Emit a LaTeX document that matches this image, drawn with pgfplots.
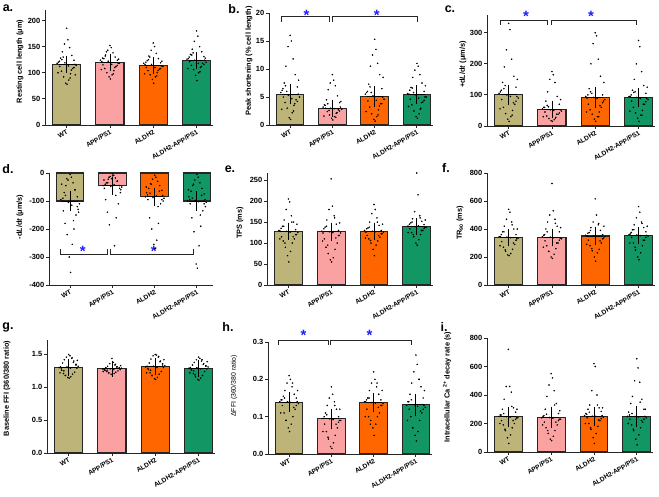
\documentclass[border=0pt]{standalone}
\usepackage{pgfplots}
\usepackage{pgfplotstable}
\pgfplotsset{compat=1.18}
\usepackage{fontspec}
\setmainfont{Liberation Sans}
\definecolor{cWT}{RGB}{189,180,122}
\definecolor{cAPP}{RGB}{250,162,162}
\definecolor{cALD}{RGB}{255,102,0}
\definecolor{cGRN}{RGB}{18,150,100}
\definecolor{starblue}{RGB}{30,30,255}

% jitter column j, then WT (w), APP/PS1 (p), ALDH2 (o), ALDH2-APP/PS1 (g)
\pgfplotstableread{
j w p o g
0.00 185 152 157 180
0.03 163 148 150 170
-0.05 155 143 143 160
0.07 148 138 137 150
-0.10 140 134 132 145
0.12 133 130 127 140
-0.14 128 127 123 135
0.17 124 124 119 131
-0.19 120 121 116 127
0.19 116 118 113 124
-0.16 112 115 110 121
0.14 108 112 107 118
-0.12 103 108 104 114
0.09 98 104 100 110
-0.07 92 100 96 106
0.05 86 96 92 100
-0.02 80 92 87 95
0.01 78 88 80 85
-0.22 118 124 118 126
0.22 114 118 112 120
-0.17 122 128 120 130
0.17 110 114 108 116
-0.11 125 132 125 134
0.11 105 110 104 112
-0.04 119 122 116 124
0.04 113 116 110 118
-0.20 100 106 98 108
0.20 96 126 122 128
-0.08 130 140 130 138
0.08 90 98 94 102
}\tA
\pgfplotstableread{
j w p o g
0.00 16 9 15.3 11
0.03 15 8 13.5 10.5
-0.05 14 7.5 12.5 9.8
0.07 11.8 7 11 9
-0.10 10.5 6.3 10.5 8.5
0.12 9 5.2 9 7.5
-0.14 7.5 4.5 7.3 6.7
0.17 6.8 4 6.5 6
-0.19 6.2 3.6 5.8 5.5
0.19 5.5 3.2 5 5
-0.16 5 3 4.3 4.6
0.14 4.5 2.7 3.8 4.1
-0.12 4 2.4 3.2 3.6
0.09 3.5 2.1 2.7 3
-0.07 3 1.8 2 2.5
0.05 2.2 1.5 1.5 2
-0.02 1.3 1.2 1 1.5
0.01 1.0 0.9 0.7 1.2
-0.22 5.8 3.2 5.5 5.6
0.22 5.0 2.8 4.6 5.0
-0.17 6.5 3.5 6.0 6.2
0.17 4.2 2.5 3.8 4.4
-0.11 7.0 3.8 6.8 6.6
0.11 3.8 2.2 3.4 4.0
-0.04 5.3 3.0 5.2 5.4
0.04 4.7 2.9 4.4 4.8
-0.20 2.8 1.6 2.4 3.3
0.20 8.0 4.2 8.5 7.0
-0.08 6.0 2.6 5.8 5.8
0.08 2.5 1.4 1.8 2.8
}\tB
\pgfplotstableread{
j w p o g
0.00 330 175 300 275
0.03 310 165 290 255
-0.05 245 150 265 200
0.07 215 140 215 175
-0.10 190 110 200 150
0.12 160 95 160 130
-0.14 140 80 120 115
0.17 125 70 100 105
-0.19 110 60 90 95
0.19 95 52 80 88
-0.16 85 45 70 80
0.14 70 38 60 70
-0.12 60 32 52 60
0.09 50 28 45 50
-0.07 40 24 38 42
0.05 30 20 30 35
-0.02 22 17 22 25
0.01 15 15 15 15
-0.22 105 55 95 95
0.22 90 48 85 85
-0.17 115 60 100 100
0.17 80 42 75 78
-0.11 120 66 110 108
0.11 75 38 65 70
-0.04 100 52 92 92
0.04 95 50 88 88
-0.20 55 30 45 48
0.20 150 85 140 125
-0.08 130 62 105 110
0.08 35 25 30 35
}\tC
\pgfplotstableread{
j w p o g
0.00 -5 -3 -8 -5
0.03 -15 -8 -15 -15
-0.05 -25 -12 -22 -25
0.07 -35 -18 -30 -35
-0.10 -45 -22 -38 -45
0.12 -60 -28 -45 -55
-0.14 -70 -35 -55 -65
0.17 -85 -45 -62 -75
-0.19 -100 -55 -70 -85
0.19 -130 -70 -80 -95
-0.16 -135 -95 -95 -110
0.14 -150 -110 -110 -135
-0.12 -180 -140 -160 -160
0.09 -200 -160 -180 -190
-0.07 -220 -185 -200 -210
0.05 -255 -260 -240 -260
-0.02 -300 -20 -255 -325
0.01 -355 -10 -270 -340
-0.22 -95 -45 -85 -100
0.22 -110 -50 -90 -105
-0.17 -90 -40 -78 -95
0.17 -120 -55 -95 -110
-0.11 -80 -35 -72 -90
0.11 -60 -30 -65 -80
-0.04 -105 -48 -88 -98
0.04 -115 -42 -82 -102
-0.20 -40 -25 -50 -60
0.20 -140 -60 -100 -120
-0.08 -20 -15 -40 -40
0.08 -170 -80 -120 -150
}\tD
\pgfplotstableread{
j w p o g
0.00 205 253 192 267
0.03 198 188 180 215
-0.05 180 180 170 175
0.07 165 165 160 165
-0.10 155 155 150 158
0.12 150 145 142 152
-0.14 140 138 136 148
0.17 132 130 130 144
-0.19 128 124 126 140
0.19 120 118 122 137
-0.16 115 110 118 134
0.14 110 100 114 130
-0.12 105 90 110 125
0.09 100 85 105 120
-0.07 90 75 100 115
0.05 80 65 95 108
-0.02 70 60 85 100
0.01 55 55 70 95
-0.22 130 128 130 140
0.22 125 124 126 138
-0.17 135 134 134 145
0.17 120 118 122 135
-0.11 140 140 138 150
0.11 115 112 118 130
-0.04 128 127 128 139
0.04 126 125 127 141
-0.20 110 105 112 125
0.20 145 148 145 155
-0.08 100 95 106 120
0.08 150 160 150 160
}\tE
\pgfplotstableread{
j w p o g
0.00 540 725 615 560
0.03 520 530 500 520
-0.05 470 500 450 480
0.07 450 470 430 450
-0.10 420 450 410 430
0.12 400 420 390 410
-0.14 380 400 375 395
0.17 360 380 360 380
-0.19 345 355 350 365
0.19 330 335 335 355
-0.16 310 315 320 340
0.14 290 300 300 320
-0.12 270 280 280 300
0.09 255 260 255 280
-0.07 240 240 245 250
0.05 225 220 230 230
-0.02 215 200 200 200
0.01 210 190 170 180
-0.22 345 345 355 360
0.22 335 330 345 350
-0.17 360 360 370 375
0.17 320 320 330 340
-0.11 380 380 390 395
0.11 300 300 315 320
-0.04 342 342 352 357
0.04 338 338 348 353
-0.20 280 270 290 300
0.20 400 410 420 420
-0.08 250 240 260 270
0.08 430 440 440 440
}\tF
\pgfplotstableread{
j w p o g
0.00 1.50 1.44 1.50 1.46
0.03 1.48 1.38 1.49 1.44
-0.05 1.46 1.36 1.48 1.42
0.07 1.44 1.34 1.46 1.40
-0.10 1.42 1.32 1.43 1.38
0.12 1.40 1.31 1.40 1.36
-0.14 1.37 1.30 1.37 1.34
0.17 1.34 1.29 1.34 1.32
-0.19 1.31 1.28 1.32 1.30
0.19 1.29 1.27 1.30 1.28
-0.16 1.26 1.26 1.27 1.26
0.14 1.23 1.25 1.24 1.24
-0.12 1.21 1.24 1.22 1.21
0.09 1.20 1.23 1.20 1.18
-0.07 1.18 1.22 1.18 1.16
0.05 1.16 1.21 1.15 1.14
-0.02 1.15 1.20 1.13 1.12
0.01 1.14 1.19 1.12 1.11
-0.22 1.30 1.28 1.31 1.29
0.22 1.32 1.29 1.33 1.31
-0.17 1.28 1.27 1.29 1.27
0.17 1.35 1.30 1.36 1.33
-0.11 1.25 1.26 1.26 1.25
0.11 1.38 1.31 1.39 1.35
-0.04 1.31 1.28 1.32 1.30
0.04 1.29 1.27 1.30 1.28
-0.20 1.22 1.24 1.22 1.22
0.20 1.41 1.33 1.42 1.39
-0.08 1.18 1.22 1.18 1.19
0.08 1.45 1.35 1.47 1.42
}\tG
\pgfplotstableread{
j w p o g
0.00 0.21 0.18 0.22 0.265
0.03 0.20 0.16 0.20 0.24
-0.05 0.19 0.15 0.19 0.22
0.07 0.18 0.14 0.18 0.20
-0.10 0.17 0.13 0.17 0.19
0.12 0.16 0.12 0.16 0.18
-0.14 0.155 0.11 0.15 0.16
0.17 0.15 0.10 0.145 0.15
-0.19 0.145 0.095 0.14 0.14
0.19 0.14 0.09 0.13 0.13
-0.16 0.13 0.08 0.12 0.12
0.14 0.12 0.07 0.11 0.11
-0.12 0.11 0.06 0.10 0.10
0.09 0.10 0.05 0.10 0.09
-0.07 0.09 0.04 0.09 0.07
0.05 0.08 0.03 0.08 0.06
-0.02 0.07 0.02 0.07 0.05
0.01 0.06 0.015 0.05 0.035
-0.22 0.14 0.095 0.14 0.13
0.22 0.135 0.09 0.135 0.125
-0.17 0.145 0.10 0.145 0.14
0.17 0.13 0.085 0.13 0.12
-0.11 0.15 0.105 0.15 0.145
0.11 0.125 0.08 0.125 0.115
-0.04 0.14 0.094 0.138 0.132
0.04 0.138 0.092 0.136 0.128
-0.20 0.11 0.06 0.10 0.09
0.20 0.17 0.12 0.17 0.17
-0.08 0.09 0.045 0.08 0.07
0.08 0.19 0.13 0.19 0.20
}\tH
\pgfplotstableread{
j w p o g
0.00 720 550 620 655
0.03 460 520 600 590
-0.05 460 470 430 500
0.07 420 430 400 490
-0.10 370 390 330 390
0.12 310 340 310 370
-0.14 300 300 300 340
0.17 280 270 285 300
-0.19 260 250 270 280
0.19 240 230 255 250
-0.16 220 210 240 230
0.14 200 190 220 210
-0.12 190 170 200 190
0.09 170 150 180 170
-0.07 150 130 160 150
0.05 120 110 130 120
-0.02 100 90 100 90
0.01 60 80 60 50
-0.22 250 240 255 250
0.22 240 230 245 240
-0.17 260 255 265 260
0.17 230 220 235 230
-0.11 270 265 280 270
0.11 220 210 225 220
-0.04 248 242 252 250
0.04 245 238 250 246
-0.20 200 190 200 200
0.20 300 290 310 300
-0.08 160 150 170 160
0.08 320 330 330 350
}\tI

\pgfplotsset{
  panel/.style={
    scale only axis, anchor=south west, clip=false,
    axis lines=left, axis line style={-, line width=1pt, black!85},
    xmin=-0.5, xmax=3.38,
    xtick={0,1,2,3}, xticklabels={WT,APP/PS1,ALDH2,ALDH2-APP/PS1},
    x tick label style={rotate=30, anchor=north east, inner sep=1pt,
      font=\bfseries\fontsize{6.6}{7}\selectfont},
    y tick label style={font=\bfseries\fontsize{7.5}{8}\selectfont, inner sep=1.5pt},
    tick align=outside, major tick length=3bp,
    tick style={line width=0.9pt, black!85},
    /pgf/number format/assume math mode=true,
    ylabel style={font=\bfseries\fontsize{7.4}{8}\selectfont,
      at={(axis description cs:0,0.5)}, anchor=center},
  },
  bar/.style={ybar, bar width=0.65, bar shift=0pt, draw=black!85, line width=1.1pt},
  dots/.style={only marks, mark=*, mark size=0.55pt, black, forget plot},
  errb/.style={black, only marks, mark=-, mark size=8bp, mark options={line width=1pt},
    error bars/.cd, y dir=both, y explicit,
    error bar style={line width=0.9pt, black},
    error mark=-, error mark options={mark size=7bp, line width=0.9pt, black}},
}
\tikzset{brk/.style={line width=0.8pt, black!85}}
\newcommand{\sigstar}[1]{\node[text=starblue, font=\bfseries\fontsize{15}{15}\selectfont, yshift=-3bp] at (#1) {*};}

\begin{document}
\begin{tikzpicture}
\path[use as bounding box] (0,0) rectangle (659bp,-497bp);

% ---------- a ----------
\begin{axis}[panel, at={(45bp,-125bp)}, width=168bp, height=115bp,
  ymin=0, ymax=220, ytick={0,50,100,150,200},
  ylabel={Resting cell length (μm)}, ylabel style={yshift=25bp, xshift=6bp}]
\addplot[bar, fill=cWT] coordinates {(0,116)};
\addplot[bar, fill=cAPP] coordinates {(1,120)};
\addplot[bar, fill=cALD] coordinates {(2,114)};
\addplot[bar, fill=cGRN] coordinates {(3,123)};
\addplot[dots] table[x expr=\thisrow{j}+0, y=w]{\tA};
\addplot[dots] table[x expr=\thisrow{j}+1, y=p]{\tA};
\addplot[dots] table[x expr=\thisrow{j}+2, y=o]{\tA};
\addplot[dots] table[x expr=\thisrow{j}+3, y=g]{\tA};
\addplot[errb] coordinates {(0,116) +- (0,3.5) (1,120) +- (0,3) (2,114) +- (0,3) (3,123) +- (0,3)};
\end{axis}

% ---------- b ----------
\begin{axis}[panel, at={(269bp,-125bp)}, width=164bp, height=112bp,
  ymin=0, ymax=20, ytick={0,5,10,15,20},
  ylabel={Peak shortening (\% cell length)}, ylabel style={yshift=20bp, xshift=8bp}]
\addplot[bar, fill=cWT] coordinates {(0,5.5)};
\addplot[bar, fill=cAPP] coordinates {(1,3.0)};
\addplot[bar, fill=cALD] coordinates {(2,5.1)};
\addplot[bar, fill=cGRN] coordinates {(3,5.45)};
\addplot[dots] table[x expr=\thisrow{j}+0, y=w]{\tB};
\addplot[dots] table[x expr=\thisrow{j}+1, y=p]{\tB};
\addplot[dots] table[x expr=\thisrow{j}+2, y=o]{\tB};
\addplot[dots] table[x expr=\thisrow{j}+3, y=g]{\tB};
\addplot[errb] coordinates {(0,5.5) +- (0,0.5) (1,3.0) +- (0,0.3) (2,5.1) +- (0,0.6) (3,5.45) +- (0,0.45)};
\draw[brk] (axis cs:-0.2,18.4) -- (axis cs:-0.2,19.4) -- (axis cs:0.92,19.4) -- (axis cs:0.92,18.4);
\draw[brk] (axis cs:1.0,18.4) -- (axis cs:1.0,19.4) -- (axis cs:3.0,19.4) -- (axis cs:3.0,18.4);
\sigstar{axis cs:0.39,20.2}
\sigstar{axis cs:2.05,20.2}
\end{axis}

% ---------- c ----------
\begin{axis}[panel, at={(487bp,-126bp)}, width=168bp, height=111bp,
  ymin=0, ymax=357, ytick={0,100,200,300},
  ylabel={+d\textit{L}/d\textit{t} (μm/s)}, ylabel style={yshift=24bp, xshift=6bp}]
\addplot[bar, fill=cWT] coordinates {(0,100)};
\addplot[bar, fill=cAPP] coordinates {(1,53)};
\addplot[bar, fill=cALD] coordinates {(2,92)};
\addplot[bar, fill=cGRN] coordinates {(3,92)};
\addplot[dots] table[x expr=\thisrow{j}+0, y=w]{\tC};
\addplot[dots] table[x expr=\thisrow{j}+1, y=p]{\tC};
\addplot[dots] table[x expr=\thisrow{j}+2, y=o]{\tC};
\addplot[dots] table[x expr=\thisrow{j}+3, y=g]{\tC};
\addplot[errb] coordinates {(0,100) +- (0,10) (1,53) +- (0,6) (2,92) +- (0,11) (3,92) +- (0,8)};
\draw[brk] (axis cs:-0.2,325) -- (axis cs:-0.2,341) -- (axis cs:0.9,341) -- (axis cs:0.9,325);
\draw[brk] (axis cs:0.98,325) -- (axis cs:0.98,341) -- (axis cs:2.95,341) -- (axis cs:2.95,325);
\sigstar{axis cs:0.4,362}
\sigstar{axis cs:1.9,362}
\end{axis}

% ---------- d ----------
\begin{axis}[panel, at={(49bp,-285bp)}, width=164bp, height=112bp,
  ymin=-400, ymax=0, ytick={-400,-300,-200,-100,0},
  ylabel={-d\textit{L}/d\textit{t} (μm/s)}, ylabel style={yshift=29bp, xshift=12bp}]
\addplot[bar, fill=cWT] coordinates {(0,-100)};
\addplot[bar, fill=cAPP] coordinates {(1,-45)};
\addplot[bar, fill=cALD] coordinates {(2,-85)};
\addplot[bar, fill=cGRN] coordinates {(3,-100)};
\addplot[dots] table[x expr=\thisrow{j}+0, y=w]{\tD};
\addplot[dots] table[x expr=\thisrow{j}+1, y=p]{\tD};
\addplot[dots] table[x expr=\thisrow{j}+2, y=o]{\tD};
\addplot[dots] table[x expr=\thisrow{j}+3, y=g]{\tD};
\addplot[errb] coordinates {(0,-100) +- (0,12) (1,-45) +- (0,7) (2,-85) +- (0,8) (3,-100) +- (0,9)};
\draw[brk] (axis cs:-0.24,-272) -- (axis cs:-0.24,-289) -- (axis cs:0.88,-289) -- (axis cs:0.88,-272);
\draw[brk] (axis cs:0.96,-272) -- (axis cs:0.96,-289) -- (axis cs:2.91,-289) -- (axis cs:2.91,-272);
\sigstar{axis cs:0.3,-269}
\sigstar{axis cs:1.98,-269}
\end{axis}

% ---------- e ----------
\begin{axis}[panel, at={(267bp,-285bp)}, width=166bp, height=112bp,
  ymin=0, ymax=267, ytick={0,50,100,150,200,250},
  ylabel={TPS (ms)}, ylabel style={yshift=27bp, xshift=6bp}]
\addplot[bar, fill=cWT] coordinates {(0,128)};
\addplot[bar, fill=cAPP] coordinates {(1,127)};
\addplot[bar, fill=cALD] coordinates {(2,128)};
\addplot[bar, fill=cGRN] coordinates {(3,139)};
\addplot[dots] table[x expr=\thisrow{j}+0, y=w]{\tE};
\addplot[dots] table[x expr=\thisrow{j}+1, y=p]{\tE};
\addplot[dots] table[x expr=\thisrow{j}+2, y=o]{\tE};
\addplot[dots] table[x expr=\thisrow{j}+3, y=g]{\tE};
\addplot[errb] coordinates {(0,128) +- (0,4) (1,127) +- (0,5) (2,128) +- (0,4) (3,139) +- (0,3)};
\end{axis}

% ---------- f ----------
\begin{axis}[panel, at={(487bp,-285bp)}, width=168bp, height=112bp,
  ymin=0, ymax=800, ytick={0,200,400,600,800},
  ylabel={TR\textsubscript{90} (ms)}, ylabel style={yshift=27bp, xshift=6bp}]
\addplot[bar, fill=cWT] coordinates {(0,340)};
\addplot[bar, fill=cAPP] coordinates {(1,340)};
\addplot[bar, fill=cALD] coordinates {(2,350)};
\addplot[bar, fill=cGRN] coordinates {(3,355)};
\addplot[dots] table[x expr=\thisrow{j}+0, y=w]{\tF};
\addplot[dots] table[x expr=\thisrow{j}+1, y=p]{\tF};
\addplot[dots] table[x expr=\thisrow{j}+2, y=o]{\tF};
\addplot[dots] table[x expr=\thisrow{j}+3, y=g]{\tF};
\addplot[errb] coordinates {(0,340) +- (0,10) (1,340) +- (0,12) (2,350) +- (0,12) (3,355) +- (0,10)};
\end{axis}

% ---------- g ----------
\begin{axis}[panel, at={(47bp,-453bp)}, width=168bp, height=113bp,
  ymin=0, ymax=1.72, ytick={0,0.5,1.0,1.5},
  yticklabel style={/pgf/number format/.cd, fixed, fixed zerofill, precision=1},
  ylabel={Baseline FFI (360/380 ratio)}, ylabel style={yshift=40bp, xshift=8bp}]
\addplot[bar, fill=cWT] coordinates {(0,1.30)};
\addplot[bar, fill=cAPP] coordinates {(1,1.28)};
\addplot[bar, fill=cALD] coordinates {(2,1.31)};
\addplot[bar, fill=cGRN] coordinates {(3,1.29)};
\addplot[dots] table[x expr=\thisrow{j}+0, y=w]{\tG};
\addplot[dots] table[x expr=\thisrow{j}+1, y=p]{\tG};
\addplot[dots] table[x expr=\thisrow{j}+2, y=o]{\tG};
\addplot[dots] table[x expr=\thisrow{j}+3, y=g]{\tG};
\addplot[errb] coordinates {(0,1.30) +- (0,0.022) (1,1.28) +- (0,0.015) (2,1.31) +- (0,0.022) (3,1.29) +- (0,0.02)};
\end{axis}

% ---------- h ----------
\begin{axis}[panel, at={(268bp,-454bp)}, width=164bp, height=112bp,
  ymin=0, ymax=0.3, ytick={0,0.1,0.2,0.3},
  yticklabel style={/pgf/number format/.cd, fixed, fixed zerofill, precision=1},
  ylabel={ΔFFI (360/380 ratio)},
  ylabel style={yshift=34bp, xshift=12bp, font=\fontsize{6.9}{7}\selectfont}]
\addplot[bar, fill=cWT] coordinates {(0,0.139)};
\addplot[bar, fill=cAPP] coordinates {(1,0.094)};
\addplot[bar, fill=cALD] coordinates {(2,0.138)};
\addplot[bar, fill=cGRN] coordinates {(3,0.132)};
\addplot[dots] table[x expr=\thisrow{j}+0, y=w]{\tH};
\addplot[dots] table[x expr=\thisrow{j}+1, y=p]{\tH};
\addplot[dots] table[x expr=\thisrow{j}+2, y=o]{\tH};
\addplot[dots] table[x expr=\thisrow{j}+3, y=g]{\tH};
\addplot[errb] coordinates {(0,0.139) +- (0,0.007) (1,0.094) +- (0,0.008) (2,0.138) +- (0,0.007) (3,0.132) +- (0,0.011)};
\draw[brk] (axis cs:-0.25,0.291) -- (axis cs:-0.25,0.304) -- (axis cs:0.92,0.304) -- (axis cs:0.92,0.291);
\draw[brk] (axis cs:0.98,0.291) -- (axis cs:0.98,0.304) -- (axis cs:2.9,0.304) -- (axis cs:2.9,0.291);
\sigstar{axis cs:0.34,0.325}
\sigstar{axis cs:1.9,0.325}
\end{axis}

% ---------- i ----------
\begin{axis}[panel, at={(487bp,-452bp)}, width=166bp, height=114bp,
  ymin=0, ymax=800, ytick={0,200,400,600,800},
  ylabel={Intracellular Ca\textsuperscript{ 2+} decay rate (s)}, ylabel style={yshift=40bp, xshift=8bp}]
\addplot[bar, fill=cWT] coordinates {(0,248)};
\addplot[bar, fill=cAPP] coordinates {(1,242)};
\addplot[bar, fill=cALD] coordinates {(2,252)};
\addplot[bar, fill=cGRN] coordinates {(3,250)};
\addplot[dots] table[x expr=\thisrow{j}+0, y=w]{\tI};
\addplot[dots] table[x expr=\thisrow{j}+1, y=p]{\tI};
\addplot[dots] table[x expr=\thisrow{j}+2, y=o]{\tI};
\addplot[dots] table[x expr=\thisrow{j}+3, y=g]{\tI};
\addplot[errb] coordinates {(0,248) +- (0,22) (1,242) +- (0,25) (2,252) +- (0,18) (3,250) +- (0,22)};
\end{axis}

% panel letters
\begin{scope}[every node/.style={font=\bfseries\fontsize{12.5}{13}\selectfont, anchor=center}]
\node at (8bp,-8bp) {a.};
\node at (234bp,-9bp) {b.};
\node at (450bp,-9bp) {c.};
\node at (8bp,-169bp) {d.};
\node at (230bp,-169bp) {e.};
\node at (446bp,-168bp) {f.};
\node at (8bp,-327bp) {g.};
\node at (228bp,-327bp) {h.};
\node at (444bp,-327bp) {i.};
\end{scope}
\end{tikzpicture}
\end{document}
